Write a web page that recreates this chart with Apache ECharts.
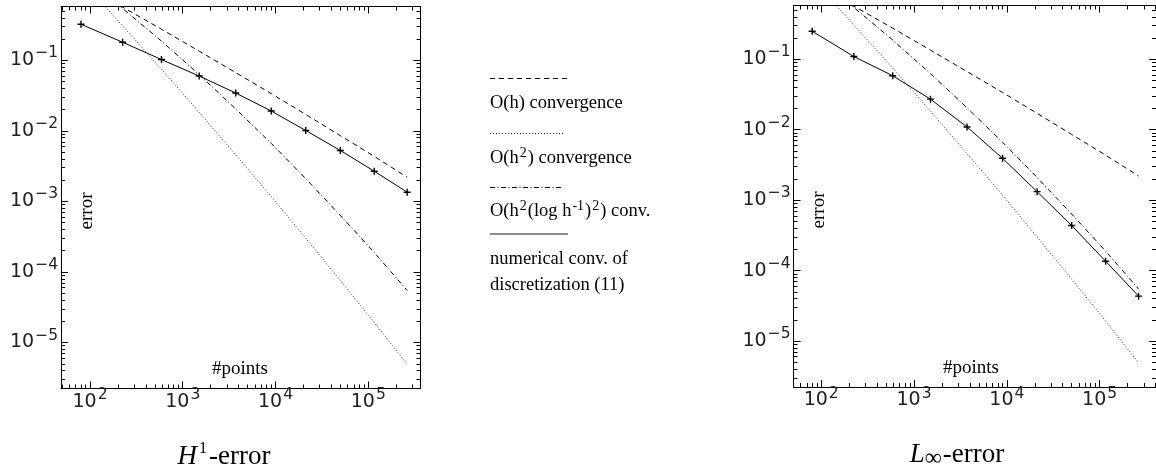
<!DOCTYPE html>
<html>
<head>
<meta charset="utf-8">
<script src="https://cdn.jsdelivr.net/npm/echarts@6/dist/echarts.min.js"></script>
<style>
html,body{margin:0;padding:0;background:#fff;}
#chart{width:1156px;height:475px;}
</style>
</head>
<body>
<div id="chart"></div>
<script>
// ---- data ----
const nPoints   = [80, 225, 590, 1505, 3730, 9000, 21200, 50000, 116000, 263000];
const h1Error   = [0.324, 0.180, 0.1023, 0.0598, 0.0343, 0.0191, 0.0101, 0.00527, 0.00268, 0.00135];
const linfError = [0.249, 0.109, 0.0582, 0.0271, 0.0109, 0.00392, 0.00132, 0.000436, 0.000136, 4.34e-5];
const orderH    = [1.22, 0.566, 0.2754, 0.1345, 0.0667, 0.0337, 0.01706, 0.00855, 0.00435, 0.0022];
const orderH2   = [1.366, 0.306, 0.075, 0.0183, 0.00457, 0.00117, 0.000301, 7.57e-5, 1.93e-5, 4.9e-6];
const orderH2Log= [1.60, 0.541, 0.187, 0.0624, 0.0204, 0.00664, 0.0021, 0.000634, 0.000189, 5.46e-5];
const minorMultipliers = [2, 3, 4, 5, 6, 7, 8, 9];
const decades = [1, 2, 3, 4, 5, 6];
const yDecades = [-6, -5, -4, -3, -2, -1, 0];

const chart = echarts.init(document.getElementById('chart'), null, {renderer: 'canvas'});

const pairs = (xs, ys) => xs.map((x, i) => [x, ys[i]]);
const minorVals = (decs) => {
  const out = [];
  decs.forEach(d => minorMultipliers.forEach(m => out.push(m * Math.pow(10, d))));
  return out;
};
const xMinor = minorVals(decades);
const yMinor = minorVals(yDecades);

const labelRich = {
  b: {fontFamily: 'DejaVu Sans', fontSize: 19, lineHeight: 19, color: '#222'},
  e: {fontFamily: 'DejaVu Sans', fontSize: 15.5, lineHeight: 15, padding: [0, 0, 14, 1], color: '#222'}
};
function powLabel(v) {
  const l = Math.log10(v);
  const e = Math.round(l);
  if (Math.abs(l - e) > 1e-6) return '';
  return '{b|10}{e|' + (e < 0 ? '\u2212' + (-e) : e) + '}';
}

const black = '#000';
function xAxes(gi, min, max) {
  const base = {type: 'log', logBase: 10, gridIndex: gi, min: min, max: max, splitLine: {show: false}};
  const minor = xMinor.filter(v => v > min && v < max);
  return [
    Object.assign({}, base, {position: 'bottom',
      axisLine: {show: true, onZero: false, lineStyle: {color: black, width: 1}},
      axisTick: {show: true, inside: true, length: 7, lineStyle: {color: black}},
      axisLabel: {show: true, margin: 4, formatter: powLabel, rich: labelRich, showMinLabel: false, showMaxLabel: false}}),
    Object.assign({}, base, {position: 'bottom',
      axisLine: {show: false, onZero: false},
      axisTick: {show: true, inside: true, length: 4, customValues: minor, lineStyle: {color: black}},
      axisLabel: {show: false}}),
    Object.assign({}, base, {position: 'top',
      axisLine: {show: true, onZero: false, lineStyle: {color: black, width: 1}},
      axisTick: {show: true, inside: true, length: 7, lineStyle: {color: black}},
      axisLabel: {show: false}}),
    Object.assign({}, base, {position: 'top',
      axisLine: {show: false, onZero: false},
      axisTick: {show: true, inside: true, length: 4, customValues: minor, lineStyle: {color: black}},
      axisLabel: {show: false}})
  ];
}
function yAxes(gi, min, max) {
  const base = {type: 'log', logBase: 10, gridIndex: gi, min: min, max: max, splitLine: {show: false}};
  const minor = yMinor.filter(v => v > min && v < max);
  return [
    Object.assign({}, base, {position: 'left',
      axisLine: {show: true, onZero: false, lineStyle: {color: black, width: 1}},
      axisTick: {show: true, inside: true, length: 7, lineStyle: {color: black}},
      axisLabel: {show: true, margin: 3, formatter: powLabel, rich: labelRich, showMinLabel: false, showMaxLabel: false}}),
    Object.assign({}, base, {position: 'left',
      axisLine: {show: false, onZero: false},
      axisTick: {show: true, inside: true, length: 4, customValues: minor, lineStyle: {color: black}},
      axisLabel: {show: false}}),
    Object.assign({}, base, {position: 'right',
      axisLine: {show: true, onZero: false, lineStyle: {color: black, width: 1}},
      axisTick: {show: true, inside: true, length: 7, lineStyle: {color: black}},
      axisLabel: {show: false}}),
    Object.assign({}, base, {position: 'right',
      axisLine: {show: false, onZero: false},
      axisTick: {show: true, inside: true, length: 4, customValues: minor, lineStyle: {color: black}},
      axisLabel: {show: false}})
  ];
}

const yMin = 2.23e-6, yMax = 0.578;
const plusPath = 'path://M4,0H6V4H10V6H6V10H4V6H0V4H4Z';

function seriesFor(gi, errors) {
  const common = {type: 'line', xAxisIndex: gi * 4, yAxisIndex: gi * 4, symbol: 'none', silent: true, animation: false, clip: true};
  return [
    Object.assign({}, common, {name: 'O(h) convergence', data: pairs(nPoints, orderH),
      lineStyle: {color: '#000', width: 1, type: [5, 4]}}),
    Object.assign({}, common, {name: 'O(h^2) convergence', data: pairs(nPoints, orderH2),
      lineStyle: {color: '#333', width: 1, type: [1, 2]}}),
    Object.assign({}, common, {name: 'O(h^2(log h^-1)^2) conv.', data: pairs(nPoints, orderH2Log),
      lineStyle: {color: '#000', width: 1, type: [5, 2.5, 1, 2.5]}}),
    Object.assign({}, common, {name: 'numerical conv. of discretization (11)', data: pairs(nPoints, errors),
      symbol: plusPath, symbolSize: 7, showSymbol: true,
      itemStyle: {color: '#000'}, lineStyle: {color: '#000', width: 1}})
  ];
}

const serif = '"Liberation Serif", "Times New Roman", serif';
const legRich = {
  n: {fontFamily: serif, fontSize: 18.5, lineHeight: 20, color: '#000'},
  s: {fontFamily: serif, fontSize: 14, lineHeight: 14, padding: [0, 1, 9, 1], color: '#000'}
};
function legText(txt, y) {
  return {type: 'text', x: 490, y: y, silent: true,
    style: {text: txt, rich: legRich, align: 'left', verticalAlign: 'middle', textAlign: 'left', textVerticalAlign: 'middle'}};
}
function legLine(y, x2, dash, color, w) {
  return {type: 'line', silent: true, shape: {x1: 490, y1: y, x2: x2, y2: y},
    style: {stroke: color, lineWidth: w, lineDash: dash}};
}
function plainText(txt, x, y, rot) {
  return {type: 'text', x: x, y: y, rotation: rot || 0, silent: true,
    style: {text: txt, fontFamily: serif, fontSize: 19, fill: '#000', align: 'center', verticalAlign: 'middle', textAlign: 'center', textVerticalAlign: 'middle'}};
}
const titleRich = {
  i: {fontFamily: serif, fontSize: 27, fontStyle: 'italic', lineHeight: 28, color: '#000'},
  n: {fontFamily: serif, fontSize: 27, lineHeight: 28, color: '#000'},
  s: {fontFamily: serif, fontSize: 16, lineHeight: 16, padding: [0, 2, 17, 2], color: '#000'},
  u: {fontFamily: serif, fontSize: 24, lineHeight: 20, padding: [7, 1, 0, 0], color: '#000'}
};
function titleText(txt, x, y) {
  return {type: 'text', x: x, y: y, silent: true,
    style: {text: txt, rich: titleRich, align: 'center', verticalAlign: 'middle', textAlign: 'center', textVerticalAlign: 'middle'}};
}

const option = {
  animation: false,
  backgroundColor: '#fff',
  grid: [
    {left: 61, top: 6.5, width: 359.5, height: 382},
    {left: 793.5, top: 5.5, width: 363.5, height: 381.5}
  ],
  xAxis: [].concat(xAxes(0, 48.7, 3.66e5), xAxes(1, 50.3, 4.05e5)),
  yAxis: [].concat(yAxes(0, yMin, yMax), yAxes(1, yMin, yMax)),
  series: [].concat(seriesFor(0, h1Error), seriesFor(1, linfError)),
  graphic: [
    legLine(78.5, 568, [5, 4], '#000', 1),
    legText('{n|O(h) convergence}', 103),
    legLine(133.5, 565, [1, 2], '#333', 1),
    legText('{n|O(h}{s|2}{n|) convergence}', 158),
    legLine(187.5, 563, [5, 2.5, 1, 2.5], '#000', 1),
    legText('{n|O(h}{s|2}{n|(log h}{s|-1}{n|)}{s|2}{n|) conv.}', 211),
    legLine(234, 568, null, '#666', 1.6),
    legText('{n|numerical conv. of}', 259),
    legText('{n|discretization (11)}', 285),
    plainText('error', 87.5, 211, Math.PI / 2),
    plainText('error', 819, 210, Math.PI / 2),
    plainText('#points', 240, 369),
    plainText('#points', 971, 368),
    titleText('{i|H}{s|1}{n|-error}', 224, 457),
    titleText('{i|L}{u|\u221e}{n|-error}', 957, 455)
  ]
};
chart.setOption(option);
</script>
</body>
</html>
